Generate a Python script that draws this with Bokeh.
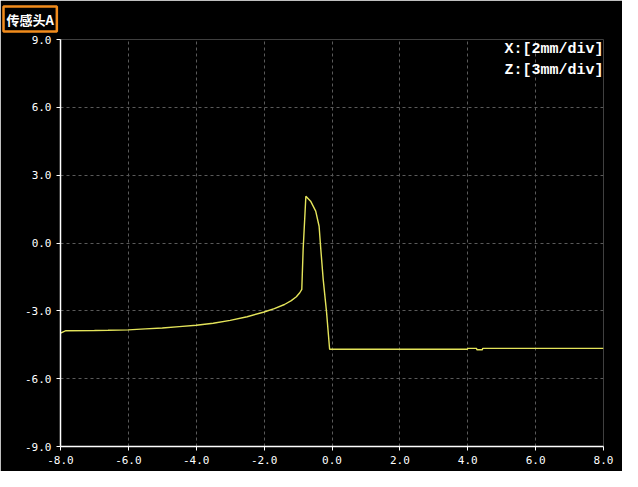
from bokeh.plotting import figure
from bokeh.models import Range1d, Label, FixedTicker, NumeralTickFormatter
from bokeh.embed import file_html
from bokeh.resources import INLINE

# Profile data (X in mm, Z in mm)
x_mm = [-8.0, -7.84, -7.0, -6.6, -6.0, -5.5, -5.0, -4.5, -4.0, -3.5, -3.0, -2.5,
        -2.0, -1.7, -1.4, -1.2, -1.05, -0.95, -0.89, -0.85, -0.77, -0.63, -0.48,
        -0.38, -0.33, -0.26, -0.16, -0.07, 1.0, 2.0, 3.0, 3.99, 4.0, 4.26, 4.27,
        4.43, 4.44, 6.0, 8.0]
z_mm = [-3.99, -3.88, -3.87, -3.86, -3.84, -3.80, -3.76, -3.70, -3.64, -3.55, -3.42, -3.26,
        -3.05, -2.90, -2.72, -2.55, -2.38, -2.20, -2.05, -0.27, 2.07, 1.85, 1.41,
        0.74, -0.27, -1.60, -3.07, -4.70, -4.70, -4.70, -4.70, -4.70, -4.66, -4.66, -4.72,
        -4.72, -4.66, -4.66, -4.66]

x_ticks = [-8, -6, -4, -2, 0, 2, 4, 6, 8]
y_ticks = [-9, -6, -3, 0, 3, 6, 9]
title_text = "传感头A"
scale_lines = ["X:[2mm/div]", "Z:[3mm/div]"]

p = figure(width=622, height=471, output_backend="svg", toolbar_location=None,
           x_range=Range1d(-8, 8), y_range=Range1d(-9, 9),
           min_border_left=60, min_border_right=19, min_border_top=39, min_border_bottom=25,
           title=title_text)
p.background_fill_color = "black"
p.border_fill_color = "black"
p.outline_line_color = None

p.title.text_color = "white"
p.title.text_font = "Noto Sans CJK SC"
p.title.text_font_size = "13px"
p.title.text_font_style = "bold"
p.title.align = "left"
p.title.vertical_align = "top"
p.title.offset = -57
p.title.standoff = 12
p.title.background_fill_color = "black"
p.title.border_line_color = "#f28c1c"
p.title.border_line_width = 2.5
p.title.padding = 3

p.line(x_mm, z_mm, line_color="#e4e45a", line_width=1.4)

for ax in (p.xaxis[0], p.yaxis[0]):
    ax.axis_line_color = "white"
    ax.axis_line_width = 1.5
    ax.major_tick_line_color = "white"
    ax.major_tick_out = 4
    ax.major_tick_in = 0
    ax.minor_tick_line_color = None
    ax.major_label_text_color = "white"
    ax.major_label_text_font = "DejaVu Sans Mono"
    ax.major_label_text_font_size = "11px"
    ax.major_label_standoff = 5
    ax.formatter = NumeralTickFormatter(format="0.0")
p.xaxis[0].ticker = FixedTicker(ticks=x_ticks)
p.yaxis[0].ticker = FixedTicker(ticks=y_ticks)

for g in (p.xgrid[0], p.ygrid[0]):
    g.grid_line_color = "#5a5a5a"
    g.grid_line_dash = "3 3"
    g.grid_line_width = 1
p.xgrid[0].ticker = FixedTicker(ticks=x_ticks)
p.ygrid[0].ticker = FixedTicker(ticks=y_ticks)

for i, t in enumerate(scale_lines):
    p.add_layout(Label(x=8, y=9, x_offset=0, y_offset=-1 - 21 * i, text=t,
                       text_align="right", text_baseline="top",
                       text_color="white", text_font="Liberation Mono",
                       text_font_size="15px", text_font_style="bold"))

open("out.html", "w").write(file_html(p, INLINE))
